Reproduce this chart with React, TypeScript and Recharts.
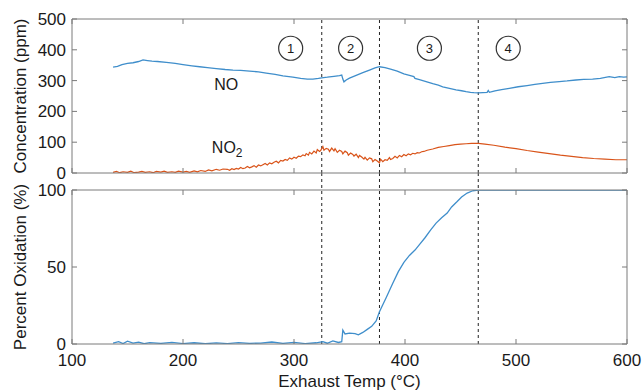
import React from 'react';
import { LineChart, Line, XAxis, YAxis, ReferenceLine, ReferenceDot } from 'recharts';

const xTicks = [100, 200, 300, 400, 500, 600];
const concTicks = [0, 100, 200, 300, 400, 500];
const oxTicks = [0, 50, 100];
const stageBoundaries = [325, 377, 466];
const stageNames = ['1', '2', '3', '4'];
const stageNameTemps = [297, 351, 422, 493];
const stageNameLevel = 405;

const noTemp = [137, 141, 145, 150, 155, 160, 164, 168, 172, 177, 185, 193, 200, 208, 215, 222, 230, 238, 245, 252, 260, 268, 275, 283, 290, 299, 306, 312, 317, 322, 325, 330, 336, 341, 343, 344, 345, 347, 350, 356, 362, 368, 373, 377, 382, 387, 393, 399, 404, 408, 409, 413, 419, 425, 430, 434, 440, 446, 451, 455, 459, 462, 466, 470, 474, 475, 476, 481, 487, 494, 502, 510, 517, 524, 531, 539, 546, 554, 561, 569, 576, 584, 589, 593, 597, 600];
const noPpm = [344, 346, 352, 356, 358, 362, 367, 365, 363, 362, 359, 356, 352, 348, 345, 342, 339, 336, 334, 333, 331, 328, 324, 320, 315, 311, 307, 305, 305, 307, 309, 311, 314, 316, 318, 305, 296, 302, 308, 317, 326, 334, 341, 345, 342, 337, 331, 322, 317, 313, 307, 303, 297, 290, 285, 280, 275, 270, 267, 264, 262, 261, 260, 261, 262, 268, 262, 267, 271, 275, 280, 284, 288, 291, 294, 297, 299, 302, 304, 305, 307, 313, 310, 313, 311, 312];

const no2Temp = [137, 140, 143, 146, 150, 153, 156, 160, 163, 166, 170, 173, 176, 180, 183, 186, 190, 193, 196, 200, 203, 206, 210, 213, 216, 220, 223, 226, 230, 233, 236,
  240, 242, 244, 246, 248, 250, 252, 254, 256, 258, 260, 262, 264, 266, 268, 270, 272, 274, 276, 278, 280, 282, 284, 286, 288, 290, 292, 294, 296, 298, 300, 302, 304, 306, 308, 310, 311, 313, 314, 316, 318, 320, 321, 323, 324, 326, 327, 329, 331, 332, 334, 336, 337, 339, 341, 343, 344, 346, 348, 349, 351, 353, 354, 356, 358, 359, 361, 363, 364, 366, 368, 370, 371, 373, 375, 377, 378, 380, 382, 384, 386, 387, 389, 391, 393, 395, 397, 399, 401, 403, 405, 407, 409, 411, 413, 415, 417, 420,
  425, 430, 435, 440, 445, 450, 455, 460, 466, 472, 480, 490, 500, 510, 520, 530, 540, 550, 560, 570, 580, 590, 600];
const no2Ppm = [2, 5, 1, 4, 2, 6, 1, 3, 5, 2, 4, 1, 5, 3, 6, 2, 4, 2, 6, 3, 5, 2, 7, 4, 8, 5, 10, 7, 12, 9, 13,
  12, 9, 14, 11, 15, 13, 18, 14, 16, 21, 17, 20, 24, 19, 26, 23, 27, 31, 26, 33, 30, 35, 38, 33, 41, 39, 44, 41, 49, 45, 51, 48, 55, 53, 59, 56, 63, 58, 67, 62, 71, 65, 76, 70, 73, 86, 74, 80, 77, 70, 81, 72, 79, 67, 74, 70, 62, 71, 66, 58, 65, 60, 55, 61, 50, 57, 52, 45, 51, 42, 49, 46, 37, 44, 39, 33, 45, 37, 43, 41, 50, 44, 47, 54, 49, 57, 53, 60, 56, 62, 59, 64, 62, 66, 65, 69, 70, 74,
  78, 83, 86, 89, 92, 94, 95, 96, 96, 94, 90, 84, 79, 73, 68, 63, 58, 54, 50, 47, 45, 43, 43];

const oxTemp = [137, 142, 146, 150, 155, 160, 165, 170, 180, 190, 200, 210, 220, 230, 240, 250, 260, 270, 280, 290, 300, 310, 320, 326, 330, 335, 340, 343, 344, 346, 350, 355, 358, 362, 366, 370, 374, 377, 383, 389, 394, 399, 404, 409, 413, 418, 423, 428, 433, 438, 442, 447, 451, 456, 461, 466, 500, 550, 600];
const oxPct = [0.5, 1.5, 0.3, 1.8, 0.6, 1.2, 0.2, 0.9, 0.4, 1.1, 0.3, 0.8, 0.2, 0.7, 0.3, 0.9, 0.4, 0.6, 1.3, 0.4, 1, 0.3, 0.8, 1.5, 0.5, 2, 1, 1.5, 9, 6.5, 7, 6.8, 6, 7.5, 9.5, 11.5, 15, 21, 30, 39.5, 47, 53, 57.5, 61, 64.5, 69, 74, 78.5, 82, 85, 89, 92.5, 95.5, 98, 99.5, 100, 100, 100, 100];

const toPoints = (xs: number[], ys: number[]) => xs.map((t, i) => ({ t, v: ys[i] }));
const noData = toPoints(noTemp, noPpm);
const no2Data = toPoints(no2Temp, no2Ppm);
const oxData = toPoints(oxTemp, oxPct);

const FONT = '"Liberation Sans", Arial, Helvetica, sans-serif';
const AXIS = '#7a7a7a';
const TEXT = '#1a1a1a';
const BLUE = '#3f8ecb';
const ORANGE = '#d9541a';
const tickStyle = { fontSize: 17, fill: TEXT, fontFamily: FONT };
const blank = () => '';

const NoLabel = (props: any) => {
  const vb = props.viewBox || {};
  const x = (vb.x || 0) + (vb.width || 0) / 2;
  const y = (vb.y || 0) + (vb.height || 0) / 2;
  return (
    <text x={x} y={y + 6} textAnchor="middle" fontSize={16} fill={TEXT} fontFamily={FONT}>NO</text>
  );
};

const No2Label = (props: any) => {
  const vb = props.viewBox || {};
  const x = (vb.x || 0) + (vb.width || 0) / 2;
  const y = (vb.y || 0) + (vb.height || 0) / 2;
  return (
    <text x={x} y={y + 6} textAnchor="start" fontSize={16} fill={TEXT} fontFamily={FONT}>
      NO<tspan dy={4} fontSize={12}>2</tspan>
    </text>
  );
};

export default function App() {
  return (
    <div style={{ position: 'absolute', left: 0, top: 0, width: 644, height: 391, background: '#fff', fontFamily: FONT }}>
      <div style={{ position: 'absolute', left: 0, top: 172 }}>
        <LineChart width={644} height={219} margin={{ top: 17, right: 12, left: 12, bottom: 0 }}>
          <XAxis dataKey="t" type="number" domain={[100, 600]} ticks={xTicks} allowDataOverflow interval={0}
            height={47} tickSize={-5} tickMargin={15} stroke={AXIS} tick={tickStyle}
            label={{ value: 'Exhaust Temp (°C)', position: 'insideBottom', offset: 4, fontSize: 17, fill: TEXT, fontFamily: FONT }} />
          <XAxis xAxisId="top" orientation="top" dataKey="t" type="number" domain={[100, 600]} ticks={xTicks} allowDataOverflow interval={0}
            height={1} tickSize={-5} tickFormatter={blank} stroke={AXIS} tick={tickStyle} />
          <YAxis type="number" domain={[0, 100]} ticks={oxTicks} allowDataOverflow width={60} interval={0}
            tickSize={-5} tickMargin={11} stroke={AXIS} tick={tickStyle}
            label={{ value: 'Percent Oxidation (%)', angle: -90, position: 'insideLeft', offset: 8, fontSize: 17, fill: TEXT, fontFamily: FONT, style: { textAnchor: 'middle' } }} />
          <YAxis yAxisId="right" orientation="right" type="number" domain={[0, 100]} ticks={oxTicks} allowDataOverflow width={5} interval={0}
            tickSize={-5} tickFormatter={blank} stroke={AXIS} tick={tickStyle} />
          {stageBoundaries.map((b) => (
            <ReferenceLine key={b} segment={[{ x: b, y: 0 }, { x: b, y: 112 }]} ifOverflow="visible"
              stroke="#222" strokeDasharray="3 3" strokeWidth={1} />
          ))}
          <Line data={oxData} dataKey="v" type="linear" stroke={BLUE} strokeWidth={1.3} dot={false} isAnimationActive={false} />
        </LineChart>
      </div>
      <div style={{ position: 'absolute', left: 0, top: 0, zIndex: 2, pointerEvents: 'none' }}>
        <LineChart width={644} height={186} margin={{ top: 18, right: 12, left: 12, bottom: 6 }}>
          <XAxis dataKey="t" type="number" domain={[100, 600]} ticks={xTicks} allowDataOverflow interval={0}
            height={7} tickSize={-5} tickFormatter={blank} stroke={AXIS} tick={tickStyle} />
          <XAxis xAxisId="top" orientation="top" dataKey="t" type="number" domain={[100, 600]} ticks={xTicks} allowDataOverflow interval={0}
            height={1} tickSize={-5} tickFormatter={blank} stroke={AXIS} tick={tickStyle} />
          <YAxis type="number" domain={[0, 500]} ticks={concTicks} allowDataOverflow width={60} interval={0}
            tickSize={-5} tickMargin={11} stroke={AXIS} tick={tickStyle}
            label={{ value: 'Concentration (ppm)', angle: -90, position: 'insideLeft', offset: 8, fontSize: 17, fill: TEXT, fontFamily: FONT, style: { textAnchor: 'middle' } }} />
          <YAxis yAxisId="right" orientation="right" type="number" domain={[0, 500]} ticks={concTicks} allowDataOverflow width={5} interval={0}
            tickSize={-5} tickFormatter={blank} stroke={AXIS} tick={tickStyle} />
          {stageBoundaries.map((b) => (
            <ReferenceLine key={b} x={b} stroke="#222" strokeDasharray="3 3" strokeWidth={1} />
          ))}
          <Line data={noData} dataKey="v" type="linear" stroke={BLUE} strokeWidth={1.3} dot={false} isAnimationActive={false} />
          <Line data={no2Data} dataKey="v" type="linear" stroke={ORANGE} strokeWidth={1.2} dot={false} isAnimationActive={false} />
          {stageNames.map((n, i) => (
            <ReferenceDot key={n} x={stageNameTemps[i]} y={stageNameLevel} r={12} fill="#fff" stroke="#333" strokeWidth={1.2}
              label={{ value: n, position: 'center', fontSize: 13, fill: TEXT, fontFamily: FONT }} />
          ))}
          <ReferenceDot x={239} y={289} r={1} fill="none" stroke="none" label={{ content: NoLabel }} />
          <ReferenceDot x={226} y={85} r={1} fill="none" stroke="none" label={{ content: No2Label }} />
        </LineChart>
      </div>
    </div>
  );
}
